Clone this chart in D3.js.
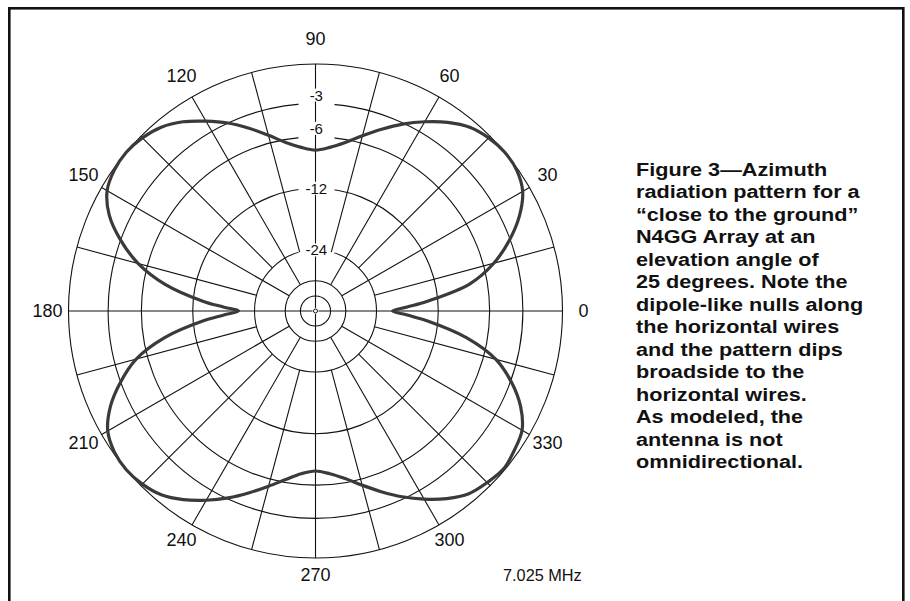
<!DOCTYPE html>
<html>
<head>
<meta charset="utf-8">
<script src="https://cdn.jsdelivr.net/npm/d3@7"></script>
<style>
  body { margin: 0; background: #fff; }
  text { font-family: "Liberation Sans", Arial, Helvetica, sans-serif; fill: #111; }
</style>
</head>
<body>
<div id="chart"></div>
<script>

// azimuth (deg, 0 = right, counter-clockwise) and gain (dB)
const azimuth = [0, 2.5, 5, 10, 15, 20, 25, 30, 35, 40, 45, 50, 55, 60, 65, 70, 75, 80, 85,
  90, 95, 100, 105, 110, 115, 120, 125, 130, 135, 140, 145, 150, 155, 160, 165, 170, 175, 177.5,
  180, 182.5, 185, 190, 195, 200, 205, 210, 215, 220, 225, 230, 235, 240, 245, 250, 255, 260, 265,
  270, 275, 280, 285, 290, 295, 300, 305, 310, 315, 320, 325, 330, 335, 340, 345, 350, 355, 357.5];

const gainDb = [-20.0, -17.0, -13.5, -7.8, -5.0, -3.1, -1.6, -0.55, -0.1, 0.0, -0.15, -0.5, -1.2, -2.1, -3.1, -4.2, -5.3, -6.3, -7.0,
  -7.35, -7.0, -6.3, -5.25, -4.1, -3.0, -2.05, -1.15, -0.5, -0.15, 0.0, -0.1, -0.45, -1.4, -3.0, -5.1, -8.3, -13.4, -16.9,
  -20.0, -17.0, -13.5, -8.2, -4.9, -3.0, -1.5, -0.5, -0.1, 0.0, -0.15, -0.5, -1.2, -2.1, -3.1, -4.2, -5.3, -6.3, -7.1,
  -7.45, -7.1, -6.4, -5.4, -4.3, -3.2, -2.2, -1.3, -0.6, -0.3, -0.1, -0.3, -0.6, -1.5, -2.9, -4.8, -8.2, -13.6, -17.0];

const ringDb = [0, -3, -6, -12, -24, -36, -48];
const ringLabels = [-3, -6, -12, -24];
const azLabels = [0, 30, 60, 90, 120, 150, 180, 210, 240, 270, 300, 330];

const caption = [
  "Figure 3\u2014Azimuth",
  "radiation pattern for a",
  "\u201Cclose to the ground\u201D",
  "N4GG Array at an",
  "elevation angle of",
  "25 degrees. Note the",
  "dipole-like nulls along",
  "the horizontal wires",
  "and the pattern dips",
  "broadside to the",
  "horizontal wires.",
  "As modeled, the",
  "antenna is not",
  "omnidirectional."
];
const freqLabel = "7.025 MHz";

const width = 910, height = 601;
const cx = 315.5, cy = 311, R = 247;

// ARRL log scale: each 2 dB is a factor 0.89 in radius
const radial = d3.scaleLinear().domain([0, 1]).range([0, R]);
const rScale = db => radial(Math.pow(0.89, -db / 2));
// azimuth deg -> lineRadial angle (clockwise from north)
const toAngle = d3.scaleLinear().domain([0, 360]).range([Math.PI / 2, Math.PI / 2 - 2 * Math.PI]);
const rad = a => a * Math.PI / 180;

const svg = d3.select("#chart").append("svg")
  .attr("width", width)
  .attr("height", height);

svg.append("rect")
  .attr("width", width).attr("height", height).attr("fill", "#fff");

// frame (runs off the bottom of the picture)
svg.append("rect")
  .attr("x", 9.3).attr("y", 8.3)
  .attr("width", 894).attr("height", 700)
  .attr("fill", "none")
  .attr("stroke", "#111")
  .attr("stroke-width", 2.6);

const g = svg.append("g").attr("transform", `translate(${cx},${cy})`);

// rings
g.selectAll("circle.ring")
  .data(ringDb)
  .join("circle")
    .attr("class", "ring")
    .attr("r", d => rScale(d))
    .attr("fill", "none")
    .attr("stroke", "#111")
    .attr("stroke-width", 1.1);

// gaps in the labelled rings
g.selectAll("rect.gap")
  .data(ringLabels)
  .join("rect")
    .attr("class", "gap")
    .attr("x", -17)
    .attr("width", 36)
    .attr("y", d => -rScale(d) - 3)
    .attr("height", 6)
    .attr("fill", "#fff");

// spokes every 15 deg; 30 deg ones go in to the -36 ring, axes go through the centre
const spokes = d3.range(0, 360, 15);
const spokeStart = a => (a % 90 === 0 ? 3 : a % 30 === 0 ? rScale(-36) : rScale(-24));
g.selectAll("line.spoke")
  .data(spokes)
  .join("line")
    .attr("class", "spoke")
    .attr("x1", a => spokeStart(a) * Math.cos(rad(a)))
    .attr("y1", a => -spokeStart(a) * Math.sin(rad(a)))
    .attr("x2", a => R * Math.cos(rad(a)))
    .attr("y2", a => -R * Math.sin(rad(a)))
    .attr("stroke", "#111")
    .attr("stroke-width", 1.1);

g.append("circle")
  .attr("r", 2)
  .attr("fill", "#fff")
  .attr("stroke", "#111")
  .attr("stroke-width", 1);

// pattern
const pts = azimuth.map((a, i) => [toAngle(a), rScale(gainDb[i])]);
const line = d3.lineRadial()
  .angle(d => d[0])
  .radius(d => d[1])
  .curve(d3.curveCatmullRomClosed.alpha(0.5));

g.append("path")
  .attr("d", line(pts))
  .attr("fill", "none")
  .attr("stroke", "#3a3a3a")
  .attr("stroke-width", 3.2)
  .attr("stroke-linejoin", "round");

// dB labels on the 90 deg spoke
const dbOffset = d => (d > -12 ? -8.5 : 0);
const dbLab = g.selectAll("g.dblab")
  .data(ringLabels)
  .join("g")
    .attr("class", "dblab")
    .attr("transform", d => `translate(0.8,${-rScale(d) + dbOffset(d)})`);

dbLab.append("text")
  .attr("text-anchor", "middle")
  .attr("dy", "0.36em")
  .attr("font-size", 15)
  .text(d => String(d));

dbLab.each(function () {
  const t = d3.select(this).select("text");
  const bb = t.node().getBBox();
  d3.select(this).insert("rect", "text")
    .attr("x", bb.x - 1)
    .attr("width", bb.width + 2)
    .attr("y", -6.5)
    .attr("height", 13)
    .attr("fill", "#fff");
});

// azimuth labels; upper and lower ones sit a few px higher than a true circle
const labR = 268, labLift = 4;
g.selectAll("text.az")
  .data(azLabels)
  .join("text")
    .attr("class", "az")
    .attr("x", a => labR * Math.cos(rad(a)))
    .attr("y", a => -labR * Math.sin(rad(a)) - labLift * Math.abs(Math.sin(rad(a))))
    .attr("dy", "0.36em")
    .attr("text-anchor", "middle")
    .attr("font-size", 18)
    .text(a => a);

svg.append("text")
  .attr("x", 503)
  .attr("y", 581)
  .attr("font-size", 16.3)
  .text(freqLabel);

// caption (type in the original is set wide)
const cap = svg.append("g").attr("transform", "translate(636,0) scale(1.17,1)");
cap.selectAll("text")
  .data(caption)
  .join("text")
    .attr("x", 0)
    .attr("y", (d, i) => 176 + i * 22.5)
    .attr("font-size", 18.5)
    .attr("font-weight", "bold")
    .text(d => d);

</script>
</body>
</html>
